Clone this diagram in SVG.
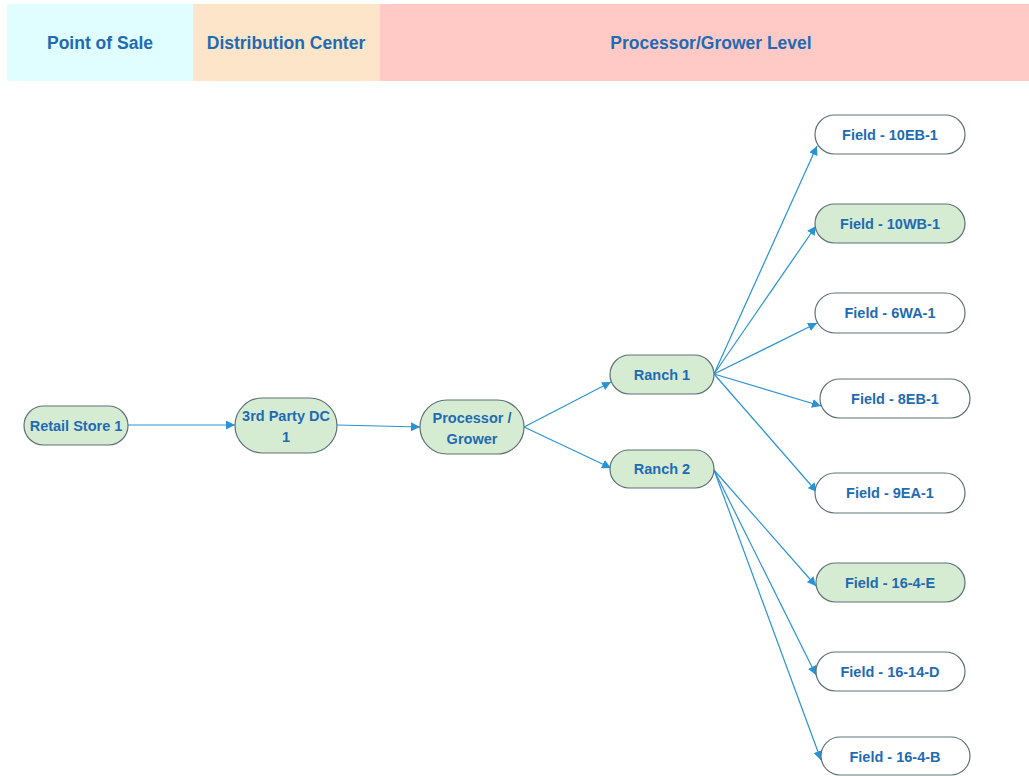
<svg xmlns="http://www.w3.org/2000/svg" width="1029" height="776" viewBox="0 0 1029 776">
<defs>
<marker id="ah" viewBox="0 0 10 10" refX="10" refY="5" markerWidth="9" markerHeight="9" markerUnits="userSpaceOnUse" orient="auto">
<path d="M0,0 L10,5 L0,10 z" fill="#2A93D5"/>
</marker>
<style>
.hd{font-family:"Liberation Sans",Arial,sans-serif;font-weight:bold;font-size:17.5px;fill:#1F6BB3;text-anchor:middle;dominant-baseline:central}
.t{font-family:"Liberation Sans",Arial,sans-serif;font-weight:bold;font-size:14.5px;fill:#1F6BB3;text-anchor:middle;dominant-baseline:central}
.g{fill:#D6ECD2;stroke:#5D7276;stroke-width:1.2}
.w{fill:#FFFFFF;stroke:#5D7276;stroke-width:1.2}
.e{stroke:#2A93D5;stroke-width:1.2;fill:none;marker-end:url(#ah)}
</style>
</defs>
<rect width="1029" height="776" fill="#FFFFFF"/>
<g id="header">
<rect x="7" y="4" width="186" height="77" fill="#E0FEFF"/>
<rect x="193" y="4" width="187" height="77" fill="#FCE5C9"/>
<rect x="380" y="4" width="649" height="77" fill="#FFCAC6"/>
<text class="hd" x="100" y="43">Point of Sale</text>
<text class="hd" x="286" y="43">Distribution Center</text>
<text class="hd" x="711" y="43">Processor/Grower Level</text>
</g>
<g id="connectors">
<line class="e" x1="127" y1="425" x2="235" y2="425"/>
<line class="e" x1="337" y1="425" x2="420" y2="427"/>
<line class="e" x1="524" y1="427" x2="611" y2="382"/>
<line class="e" x1="524" y1="427" x2="611" y2="468"/>
<line class="e" x1="714" y1="374" x2="817" y2="146"/>
<line class="e" x1="714" y1="374" x2="816" y2="226"/>
<line class="e" x1="714" y1="374" x2="817" y2="323"/>
<line class="e" x1="714" y1="374" x2="821" y2="406"/>
<line class="e" x1="714" y1="374" x2="817" y2="492"/>
<line class="e" x1="714" y1="470" x2="816" y2="586"/>
<line class="e" x1="714" y1="470" x2="816" y2="675"/>
<line class="e" x1="714" y1="470" x2="821" y2="760"/>
</g>
<g id="retail"><rect class="g" x="24" y="406" width="104" height="39" rx="19.5"/><text class="t" x="76" y="426">Retail Store 1</text></g>
<g id="dc"><rect class="g" x="235" y="398" width="102" height="55" rx="27.5"/><text class="t" x="286" y="416">3rd Party  DC</text><text class="t" x="286" y="437">1</text></g>
<g id="processor"><rect class="g" x="420" y="400" width="104" height="54" rx="27"/><text class="t" x="472" y="418">Processor /</text><text class="t" x="472" y="439">Grower</text></g>
<g id="ranch1"><rect class="g" x="610" y="355" width="104" height="39" rx="19.5"/><text class="t" x="662" y="375">Ranch 1</text></g>
<g id="ranch2"><rect class="g" x="610" y="450" width="104" height="38" rx="19"/><text class="t" x="662" y="469">Ranch 2</text></g>
<g id="f10eb1"><rect class="w" x="815" y="115" width="150" height="39" rx="19.5"/><text class="t" x="890" y="135">Field - 10EB-1</text></g>
<g id="f10wb1"><rect class="g" x="815" y="204" width="150" height="39" rx="19.5"/><text class="t" x="890" y="224">Field - 10WB-1</text></g>
<g id="f6wa1"><rect class="w" x="815" y="293" width="150" height="40" rx="20"/><text class="t" x="890" y="313">Field - 6WA-1</text></g>
<g id="f8eb1"><rect class="w" x="820" y="379" width="150" height="39" rx="19.5"/><text class="t" x="895" y="399">Field - 8EB-1</text></g>
<g id="f9ea1"><rect class="w" x="815" y="473" width="150" height="40" rx="20"/><text class="t" x="890" y="493">Field - 9EA-1</text></g>
<g id="f164e"><rect class="g" x="816" y="563" width="149" height="39" rx="19.5"/><text class="t" x="890" y="583">Field - 16-4-E</text></g>
<g id="f1614d"><rect class="w" x="816" y="652" width="149" height="39" rx="19.5"/><text class="t" x="890" y="672">Field - 16-14-D</text></g>
<g id="f164b"><rect class="w" x="821" y="737" width="149" height="38" rx="19"/><text class="t" x="895" y="757">Field - 16-4-B</text></g>
</svg>
